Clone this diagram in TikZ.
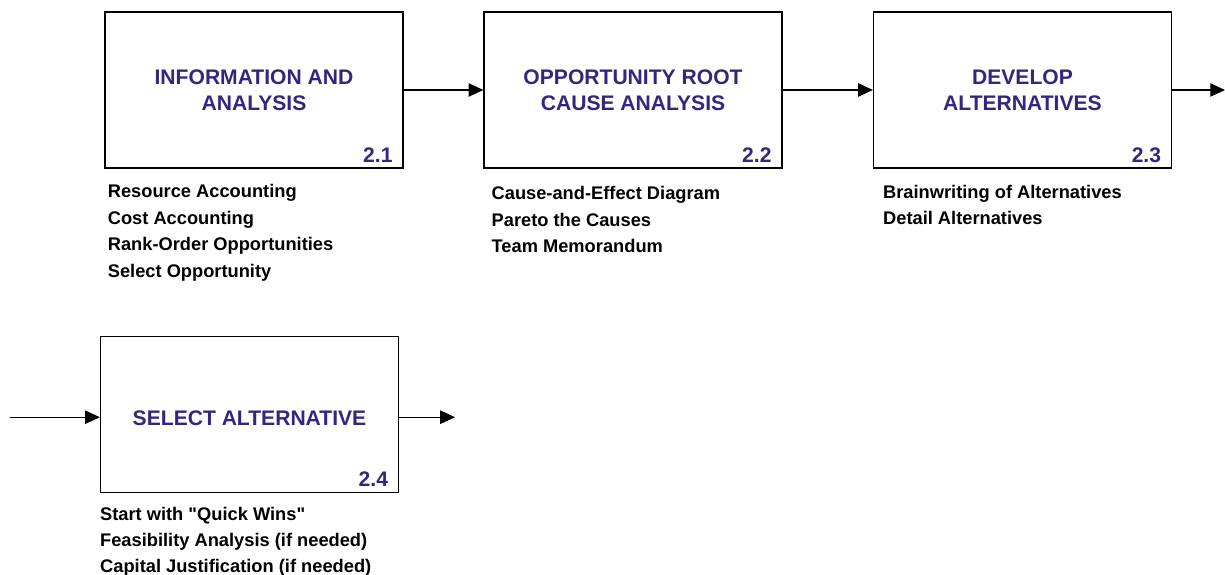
\documentclass[tikz,border=0pt]{standalone}
\usepackage{fontspec}
\setmainfont{Liberation Sans}
\usetikzlibrary{arrows.meta,positioning}
\definecolor{titleblue}{RGB}{52,38,128}
\newcommand\straightquote{\XeTeXglyph\XeTeXcharglyph"22\relax}
\tikzset{
  stage/.style={draw, line width=0.9pt, minimum width=7.45cm, minimum height=3.9cm,
    align=center, text=titleblue, font=\fontsize{15}{18.5}\selectfont\bfseries},
  stepnum/.style={inner sep=0pt, text=titleblue, font=\fontsize{15}{18}\selectfont\bfseries},
  tasklist/.style={inner sep=0pt, align=left, font=\fontsize{13}{19}\selectfont\bfseries},
  flow/.style={line width=0.8pt, -{Triangle[length=10.5pt,width=9.5pt]}}
}
\begin{document}
\begin{tikzpicture}
    \useasboundingbox (0,0) rectangle (30.625,-14.375);

    \node[stage] (S1) at (6.35,-2.25) {INFORMATION AND\\ANALYSIS};
    \node[stage] (S2) at (15.825,-2.25) {OPPORTUNITY ROOT\\CAUSE ANALYSIS};
    \node[stage] (S3) at (25.5625,-2.25) {DEVELOP\\ALTERNATIVES};
    \node[stage] (S4) at (6.2375,-10.3625) {\rule{0pt}{0.53cm}SELECT ALTERNATIVE};

    \node[stepnum, above left=0.15cm and 0.27cm of S1.south east] (N1) {2.1};
    \node[stepnum, above left=0.15cm and 0.27cm of S2.south east] (N2) {2.2};
    \node[stepnum, above left=0.15cm and 0.27cm of S3.south east] (N3) {2.3};
    \node[stepnum, above left=0.15cm and 0.27cm of S4.south east] (N4) {2.4};

    \node[tasklist, below right=0.38cm and 0.08cm of S1.south west] (L1)
      {Resource Accounting\\Cost Accounting\\Rank-Order Opportunities\\Select Opportunity};
    \node[tasklist, below right=0.43cm and 0.2cm of S2.south west] (L2)
      {Cause-and-Effect Diagram\\Pareto the Causes\\Team Memorandum};
    \node[tasklist, below right=0.4cm and 0.25cm of S3.south west] (L3)
      {Brainwriting of Alternatives\\Detail Alternatives};
    \node[tasklist, font=\fontsize{13}{18.5}\selectfont\bfseries,
      below right=0.35cm and 0cm of S4.south west] (L4)
      {Start with \straightquote Quick Wins\straightquote\\Feasibility Analysis (if needed)\\Capital Justification (if needed)};

    \coordinate (out3) at (30.625,-2.25);
    \coordinate (in4) at (0.25,-10.43);
    \coordinate (out4) at (11.375,-10.43);

    \draw[flow] (S1) -- (S2);
    \draw[flow] (S2) -- (S3);
    \draw[flow] (S3) -- (out3);
    \draw[flow] (in4) -- (in4 -| S4.west);
    \draw[flow] (S4.east |- out4) -- (out4);
  \end{tikzpicture}
\end{document}
